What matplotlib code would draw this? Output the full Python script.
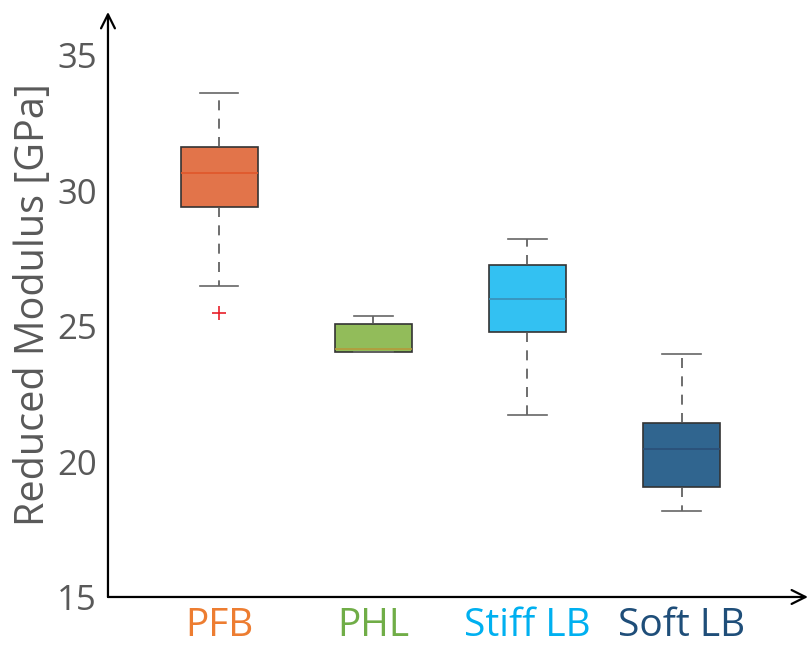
import matplotlib.pyplot as plt
import numpy as np

plt.rcParams['font.family'] = ['Open Sans', 'DejaVu Sans']

# group names and colours
groups = ['PFB', 'PHL', 'Stiff LB', 'Soft LB']
label_colors = ['#ED7D31', '#70AD47', '#00B0F0', '#1F4E79']
fill_colors = ['#E2744A', '#92BC5A', '#33C1F2', '#30658F']
median_colors = ['#E0562A', '#B59A3A', '#3A8FB8', '#2A4F78']

# box statistics (GPa)
whislo = [26.5, 24.04, 21.72, 18.17]
q1 = [29.4, 24.04, 24.78, 19.06]
med = [30.65, 24.15, 26.0, 20.46]
q3 = [31.6, 25.07, 27.25, 21.42]
whishi = [33.6, 25.37, 28.21, 23.97]
outliers = [[25.5], [], [], []]

stats = []
for i, g in enumerate(groups):
    stats.append(dict(label=g, whislo=whislo[i], q1=q1[i], med=med[i],
                      q3=q3[i], whishi=whishi[i], fliers=outliers[i]))

fig = plt.figure(figsize=(8.1, 6.47), dpi=100)
ax = fig.add_axes([0.1333, 0.0773, 0.8642, 0.9042])

positions = np.arange(1, len(groups) + 1)
bp = ax.bxp(stats, positions=positions, widths=0.5, patch_artist=True,
            boxprops=dict(edgecolor='#333333', linewidth=1.2),
            whiskerprops=dict(color='#555555', linestyle=(0, (6, 5)), linewidth=1.2),
            capprops=dict(color='#666666', linewidth=1.2),
            medianprops=dict(linewidth=1.2),
            flierprops=dict(marker='+', markeredgecolor='#E8202A', markersize=10,
                            markeredgewidth=1.2))
for i, box in enumerate(bp['boxes']):
    box.set_facecolor(fill_colors[i])
for i, m in enumerate(bp['medians']):
    m.set_color(median_colors[i])

ax.set_xlim(0.279, 4.82)
ax.set_ylim(15, 36.6)
ax.set_yticks([15, 20, 25, 30, 35])
ax.set_xticks(positions)
ax.set_xticklabels(groups)
ax.tick_params(axis='y', length=0, labelsize=25, labelcolor='#595959', pad=8)
ax.tick_params(axis='x', length=0, labelsize=28, pad=7)
for t, c in zip(ax.get_xticklabels(), label_colors):
    t.set_color(c)
for s in ax.spines.values():
    s.set_visible(False)

ax.set_ylabel('Reduced Modulus [GPa]', fontsize=28.5, color='#595959', labelpad=2)

# arrowed axes
ax.annotate('', xy=(0, 1), xytext=(0, 0), xycoords='axes fraction',
            arrowprops=dict(arrowstyle='->', color='black', lw=1.6,
                            shrinkA=0, shrinkB=0, mutation_scale=25))
ax.annotate('', xy=(1, 0), xytext=(0, 0), xycoords='axes fraction',
            arrowprops=dict(arrowstyle='->', color='black', lw=1.6,
                            shrinkA=0, shrinkB=0, mutation_scale=25))

fig.savefig('out.png', dpi=100)
